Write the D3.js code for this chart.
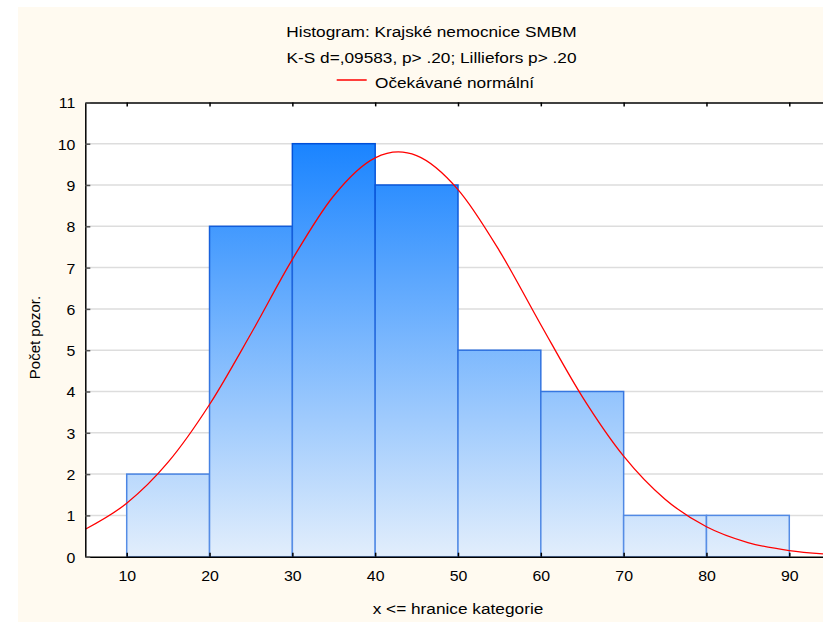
<!DOCTYPE html>
<html>
<head>
<meta charset="utf-8">
<script src="https://cdn.jsdelivr.net/npm/d3@7/dist/d3.min.js"></script>
<style>
  html, body { margin: 0; padding: 0; background: #ffffff; }
  svg { display: block; }
  text { font-family: "Liberation Sans", Arial, sans-serif; fill: #000; }
</style>
</head>
<body>
<svg id="chart" width="823" height="622"></svg>
<script>
// Histogram bins: upper class limits and observed counts
const binEdges = [10, 20, 30, 40, 50, 60, 70, 80, 90];
const counts = [2, 8, 10, 9, 5, 4, 1, 1];

// Expected normal frequencies (per 10-unit class) along x
const curveX = [5, 10, 15, 20, 25, 30, 35, 40, 42.8, 45, 50, 55, 60, 65, 70, 75, 80, 85, 90, 95];
const curveY = [0.665, 1.294, 2.288, 3.685, 5.399, 7.200, 8.740, 9.657, 9.800, 9.711, 8.889, 7.406, 5.617, 3.877, 2.435, 1.392, 0.725, 0.343, 0.148, 0.058];

// Axis ticks
const xTicks = [10, 20, 30, 40, 50, 60, 70, 80, 90];
const yTicks = [0, 1, 2, 3, 4, 5, 6, 7, 8, 9, 10, 11];

const titleLines = ["Histogram: Krajské nemocnice SMBM", "K-S d=,09583, p> .20; Lilliefors p> .20"];
const legendLabel = "Očekávané normální";
const xLabel = "x <= hranice kategorie";
const yLabel = "Počet pozor.";

const svg = d3.select("#chart");
const W = 823, H = 622;
const plot = { left: 85.3, right: 830.7, top: 102.4, bottom: 556.7 };

const x = d3.scaleLinear().domain([5, 95]).range([plot.left, plot.right]);
const y = d3.scaleLinear().domain([0, 11]).range([plot.bottom, plot.top]);

// Page background
svg.append("rect").attr("x", 18).attr("y", 7).attr("width", W - 18).attr("height", H - 7)
  .attr("fill", "#fffaf0");

const defs = svg.append("defs");
defs.append("clipPath").attr("id", "plotClip").append("rect")
  .attr("x", plot.left).attr("y", plot.top)
  .attr("width", plot.right - plot.left).attr("height", plot.bottom - plot.top);

const fillGrad = defs.append("linearGradient").attr("id", "barFill")
  .attr("gradientUnits", "userSpaceOnUse")
  .attr("x1", 0).attr("x2", 0).attr("y1", y(10)).attr("y2", y(0));
fillGrad.append("stop").attr("offset", "0%").attr("stop-color", "#1a84ff");
fillGrad.append("stop").attr("offset", "100%").attr("stop-color", "#e2eefc");

const strokeGrad = defs.append("linearGradient").attr("id", "barStroke")
  .attr("gradientUnits", "userSpaceOnUse")
  .attr("x1", 0).attr("x2", 0).attr("y1", y(10)).attr("y2", y(0));
strokeGrad.append("stop").attr("offset", "0%").attr("stop-color", "#0050d8");
strokeGrad.append("stop").attr("offset", "100%").attr("stop-color", "#5a90e6");

// Plot area
svg.append("rect").attr("x", plot.left).attr("y", plot.top)
  .attr("width", plot.right - plot.left).attr("height", plot.bottom - plot.top)
  .attr("fill", "#ffffff");

const inner = svg.append("g").attr("clip-path", "url(#plotClip)");

// Horizontal grid
inner.append("g")
  .selectAll("line").data(yTicks.filter(v => v > 0 && v < 11)).join("line")
  .attr("x1", plot.left).attr("x2", plot.right)
  .attr("y1", d => y(d)).attr("y2", d => y(d))
  .attr("stroke", "#dddddd").attr("stroke-width", 1.5);

// Bars
const bins = counts.map((c, i) => ({ x0: binEdges[i], x1: binEdges[i + 1], n: c }));
inner.append("g")
  .selectAll("rect").data(bins).join("rect")
  .attr("x", d => x(d.x0)).attr("width", d => x(d.x1) - x(d.x0))
  .attr("y", d => y(d.n)).attr("height", d => y(0) - y(d.n))
  .attr("fill", "url(#barFill)")
  .attr("stroke", "url(#barStroke)").attr("stroke-width", 1.5);

// Expected normal curve
const line = d3.line().x((d, i) => x(curveX[i])).y(d => y(d)).curve(d3.curveMonotoneX);
inner.append("path").datum(curveY)
  .attr("d", line).attr("fill", "none")
  .attr("stroke", "#ff0000").attr("stroke-width", 1.3);

// Axes
const stretchDigits = 1.06;
const stretchWords = 1.15;

const gx = svg.append("g").attr("transform", `translate(0,${plot.bottom})`)
  .call(d3.axisBottom(x).tickValues(xTicks).tickSize(-4).tickPadding(12).tickSizeOuter(0));
gx.select(".domain").attr("stroke", "#000").attr("stroke-width", 1.5);
gx.selectAll(".tick line").attr("stroke", "#000").attr("stroke-width", 1.5);
gx.selectAll(".tick text").attr("font-size", 15).attr("font-family", null)
  .attr("transform", `scale(${stretchDigits},1)`).attr("dy", "0.71em").attr("y", 14);

const gxTop = svg.append("g").attr("transform", `translate(0,${plot.top})`)
  .call(d3.axisTop(x).tickValues(xTicks).tickSize(-4).tickFormat("").tickSizeOuter(0));
gxTop.select(".domain").attr("stroke", "#000").attr("stroke-width", 1.5);
gxTop.selectAll(".tick line").attr("stroke", "#000").attr("stroke-width", 1.5);

const gy = svg.append("g").attr("transform", `translate(${plot.left},0)`)
  .call(d3.axisLeft(y).tickValues(yTicks).tickSize(-5).tickPadding(10).tickSizeOuter(0));
gy.select(".domain").attr("stroke", "#000").attr("stroke-width", 1.5);
gy.selectAll(".tick line").attr("stroke", "#555").attr("stroke-width", 1.5);
gy.selectAll(".tick text").attr("font-size", 15).attr("font-family", null)
  .attr("x", -10 / stretchDigits).attr("dy", "0.36em")
  .attr("transform", `scale(${stretchDigits},1)`);

// Titles
const titleX = 431.5;
titleLines.forEach((t, i) => {
  svg.append("text")
    .attr("transform", `translate(${titleX},${36.7 + i * 26.5}) scale(${stretchWords},1)`)
    .attr("text-anchor", "middle").attr("font-size", 15).text(t);
});

// Legend
svg.append("line").attr("x1", 336.7).attr("x2", 366.7).attr("y1", 80).attr("y2", 80)
  .attr("stroke", "#ff0000").attr("stroke-width", 1.5);
svg.append("text")
  .attr("transform", `translate(375,87.5) scale(${stretchWords},1)`)
  .attr("font-size", 15).text(legendLabel);

// Axis titles
svg.append("text")
  .attr("transform", `translate(${(plot.left + plot.right) / 2},614) scale(${stretchWords},1)`)
  .attr("text-anchor", "middle").attr("font-size", 15).text(xLabel);

svg.append("text")
  .attr("transform", `translate(39.5,337.5) rotate(-90)`)
  .attr("text-anchor", "middle").attr("font-size", 15).text(yLabel);
</script>
</body>
</html>
